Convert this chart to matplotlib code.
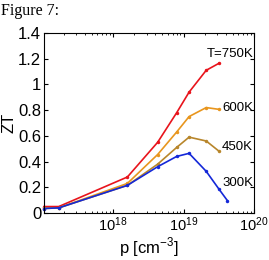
import matplotlib
matplotlib.use("Agg")
import matplotlib.pyplot as plt
from matplotlib.ticker import LogLocator, NullFormatter, FixedLocator

p = [1.05e17, 1.7e17, 1.6e18, 4.3e18, 8.0e18, 1.2e19, 2.1e19, 3.2e19]
p300 = [1.05e17, 1.7e17, 1.6e18, 4.3e18, 8.0e18, 1.2e19, 2.1e19, 3.2e19, 4.2e19]
zt750 = [0.05, 0.05, 0.28, 0.55, 0.78, 0.94, 1.11, 1.165]
zt600 = [0.04, 0.04, 0.23, 0.455, 0.63, 0.75, 0.82, 0.806]
zt450 = [0.035, 0.04, 0.215, 0.38, 0.51, 0.59, 0.56, 0.48]
zt300 = [0.035, 0.04, 0.215, 0.36, 0.44, 0.464, 0.324, 0.184, 0.096]

labels = ["T=750K", "600K", "450K", "300K"]
label_y = [1.24, 0.82, 0.51, 0.23]
colors = ["#e8141c", "#e8961e", "#b8862b", "#1428d8"]

plt.rcParams['font.family'] = ['Liberation Sans', 'DejaVu Sans']
plt.rcParams['mathtext.fontset'] = 'custom'
plt.rcParams['mathtext.rm'] = 'Liberation Sans'
fig = plt.figure(figsize=(2.69, 2.60), dpi=100)
ax = fig.add_axes([44/269, 1 - 213/260, (254-44)/269, (213-33)/260])

series = [(p, zt750), (p, zt600), (p, zt450), (p300, zt300)]
for (xs, ys), c in zip(series, colors):
    ax.plot(xs, ys, '-o', color=c, lw=1.2, ms=2.5, mew=0, clip_on=False)

for lab, y in zip(labels, label_y):
    ax.text(9.7e19, y, lab, ha='right', va='center', fontsize=9.5, color='black')

ax.set_xscale('log')
ax.set_xlim(1.05e17, 1e20)
ax.set_ylim(0, 1.4)
ax.xaxis.set_major_locator(FixedLocator([1e18, 1e19, 1e20]))
ax.xaxis.set_minor_locator(LogLocator(base=10, subs=range(2, 10)))
ax.xaxis.set_minor_formatter(NullFormatter())
ax.set_yticks([0, 0.2, 0.4, 0.6, 0.8, 1, 1.2, 1.4])
ax.set_yticklabels(['0', '0.2', '0.4', '0.6', '0.8', '1', '1.2', '1.4'])
ax.tick_params(which='both', direction='in', top=True, right=True, pad=2)
ax.tick_params(axis='y', labelsize=12)
ax.tick_params(axis='x', labelsize=10.5)
ax.tick_params(which='major', length=3)
ax.tick_params(which='minor', length=1.5)
for s in ax.spines.values():
    s.set_linewidth(0.8)
ax.set_xlabel('p [cm$^{-3}$]', fontsize=12, labelpad=1)
ax.set_ylabel('ZT', fontsize=12, labelpad=1)

fig.text(1/269, 1 - 11/260, 'Figure 7:', fontsize=11.5, family='Liberation Serif', va='center', ha='left')

fig.savefig('out.png', dpi=100)
